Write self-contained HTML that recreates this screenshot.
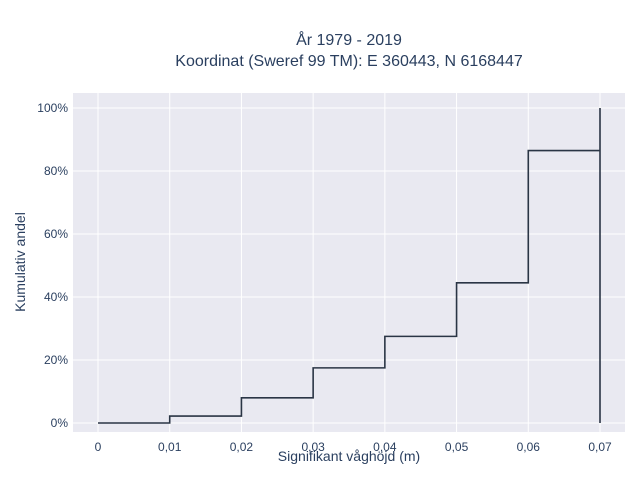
<!DOCTYPE html>
<html><head><meta charset="utf-8"><style>
body{margin:0;background:#fff;}
svg text{font-family:"Liberation Sans",sans-serif;fill:#2a3f5f;}
</style></head><body>
<svg width="640" height="480">
<rect width="640" height="480" fill="#fff"/>
<text x="349" y="45" font-size="16" text-anchor="middle">År 1979 - 2019</text>
<text x="349" y="66" font-size="16" text-anchor="middle">Koordinat (Sweref 99 TM): E 360443, N 6168447</text>
<rect x="73" y="93" width="552" height="339" fill="#e9e9f1"/>
<g id="grid"></g><g id="ticks"></g><g id="line"></g>
<text x="349" y="461" font-size="14" text-anchor="middle">Signifikant våghöjd (m)</text>
<text transform="translate(25,262) rotate(-90)" font-size="14" text-anchor="middle">Kumulativ andel</text>
</svg>
<script>
const xVals=[0,0.01,0.02,0.03,0.04,0.05,0.06,0.07];
const yVals=[0,2.2,8,17.5,27.5,44.5,86.5,100];
const xTicks=[0,0.01,0.02,0.03,0.04,0.05,0.06,0.07];
const xTickLabels=["0","0,01","0,02","0,03","0,04","0,05","0,06","0,07"];
const yTicks=[0,20,40,60,80,100];
const yTickLabels=["0%","20%","40%","60%","80%","100%"];
const NS="http://www.w3.org/2000/svg";
const X=v=>98+(v/0.07)*502;
const Y=v=>423-(v/100)*315;
function mk(t,a,p){const e=document.createElementNS(NS,t);for(const k in a)e.setAttribute(k,a[k]);p.appendChild(e);return e;}
const g=document.getElementById('grid'),tk=document.getElementById('ticks'),ln=document.getElementById('line');
xTicks.forEach((v,i)=>{
 const l=mk('line',{x1:X(v),x2:X(v),y1:93,y2:432,stroke:'#fff','stroke-width':1},g);
 
 
 const t=mk('text',{x:X(v),y:438+13,'font-size':12,'text-anchor':'middle'},tk);t.textContent=xTickLabels[i];
 
 
});
yTicks.forEach((v,i)=>{
 const l=mk('line',{x1:73,x2:625,y1:Y(v),y2:Y(v),stroke:'#fff','stroke-width':1},g);
 
 
 const t=mk('text',{x:68,y:Y(v)+4,'font-size':12,'text-anchor':'end'},tk);t.textContent=yTickLabels[i];
 
 
});
let d='M'+X(xVals[0])+','+Y(yVals[0]);
for(let i=1;i<xVals.length;i++){d+=' H'+X(xVals[i])+' V'+Y(yVals[i]);}
d+=' M'+X(xVals[xVals.length-1])+','+Y(yVals[yVals.length-1])+' V'+Y(0);
const p=mk('path',{d:d,fill:'none',stroke:'#2a3545','stroke-width':1.6},ln);


</script>
</body></html>
